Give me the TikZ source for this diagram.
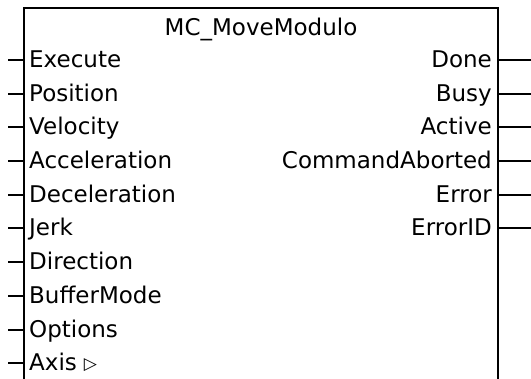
\documentclass[tikz,border=0pt]{standalone}
\usepackage{fontspec}
\setmainfont{DejaVu Sans}
\usetikzlibrary{positioning}
\begin{document}
\begin{tikzpicture}[x=1pt,y=-1pt,
  pinlbl/.style={inner sep=0pt,text height=16pt,text depth=0pt,font=\fontsize{23}{25}\selectfont},
  inlbl/.style={pinlbl,anchor=west},
  outlbl/.style={pinlbl,anchor=east},
  pinline/.style={line width=2pt}]
\useasboundingbox (0,0) rectangle (531,379);
% block outline, open at the bottom
\coordinate (tl) at (24,8);
\coordinate (tr) at (498,8);
\coordinate (inend) at (8,0);
\coordinate (outend) at (531,0);
\draw[line width=2pt] (tl |- 0,379) -- (tl) -- (tr) -- (tr |- 0,379);
\node[pinlbl] (title) at (261,28) {MC\_MoveModulo};
% inputs
\node[inlbl] (exe) at (29,60) {Execute};
\node[inlbl] (pos) at (29,94) {Position};
\node[inlbl] (vel) at (29,127) {Velocity};
\node[inlbl] (acc) at (29,161) {Acceleration};
\node[inlbl] (dec) at (29,195) {Deceleration};
\node[inlbl] (jerk) at (29,228) {Jerk};
\node[inlbl] (dir) at (29,262) {Direction};
\node[inlbl] (buf) at (29,296) {BufferMode};
\node[inlbl] (opt) at (29,330) {Options};
\node[inlbl] (axis) at (29,363) {Axis\hspace{7pt}\raisebox{1.5pt}{\fontsize{17}{17}\selectfont ▷}};
\foreach \p in {exe,pos,vel,acc,dec,jerk,dir,buf,opt,axis}
  \draw[pinline] (\p.west -| inend) -- (\p.west -| tl);
% outputs
\node[outlbl] (done) at (492,60) {Done};
\node[outlbl] (busy) at (492,94) {Busy};
\node[outlbl] (act) at (492,127) {Active};
\node[outlbl] (abort) at (492,161) {CommandAborted};
\node[outlbl] (err) at (492,195) {Error};
\node[outlbl] (errid) at (492,228) {ErrorID};
\foreach \p in {done,busy,act,abort,err,errid}
  \draw[pinline] (\p.east -| tr) -- (\p.east -| outend);
\end{tikzpicture}
\end{document}
